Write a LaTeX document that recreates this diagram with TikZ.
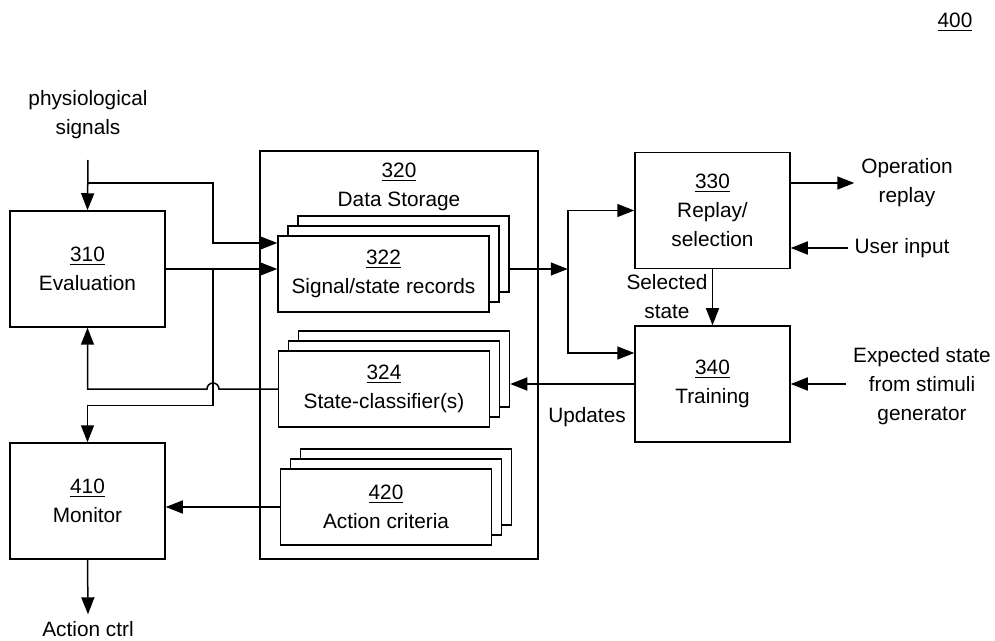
\documentclass[tikz,border=0pt]{standalone}
\usepackage{fontspec}
\setmainfont{Liberation Sans}
\usepackage{tikz}
\usetikzlibrary{arrows.meta, positioning, calc}

\begin{document}
\begin{tikzpicture}[
    x=0.5pt, y=-0.5pt,
    note/.style={font=\fontsize{10.4}{14.5}\selectfont, align=center},
    unit/.style={note, rectangle, draw, line width=0.75pt, fill=white, minimum width=77.5pt, minimum height=58pt},
    storebox/.style={rectangle, draw, line width=0.75pt, minimum width=139pt, minimum height=204pt},
    stackbox/.style={note, rectangle, draw, line width=0.75pt, fill=white, minimum width=105.5pt, minimum height=38pt,
        preaction={draw, fill=white, transform canvas={shift={(10pt,10pt)}}},
        preaction={draw, fill=white, transform canvas={shift={(5pt,5pt)}}}},
    arrow/.style={-{Triangle[length=8.5pt, width=6.5pt]}, line width=0.75pt}
]
\useasboundingbox (0,0) rectangle (995,641);

% Figure number
\node[note] (fig_num) at (955,22) {\underline{400}};

% Input signals and evaluation
\node[note] (phys) at (88,115) {physiological\\signals};
\coordinate (phys_in) at (88,160);
\coordinate (phys_split) at (88,183);
\node[unit] (eval) at (87.5,269) {\underline{310}\\Evaluation};

% Data storage with its stacked records
\node[storebox] (store) at (399,355) {};
\node[note] (store_title) at (399,187) {\underline{320}\\Data Storage};
\node[stackbox] (rec) at (383.5,274) {\underline{322}\\Signal/state records};
\node[stackbox] (cls) at (384,389) {\underline{324}\\State-classifier(s)};
\node[stackbox] (crit) at (386,507) {\underline{420}\\Action criteria};

% Monitor
\node[unit] (monitor) at (87.5,501) {\underline{410}\\Monitor};
\node[note] (act) at (88,629) {Action ctrl};

% Replay and training
\node[unit] (replay) at (712.5,210.5) {\underline{330}\\Replay/\\selection};
\node[unit] (train) at (712.5,384) {\underline{340}\\Training};
\node[note] (sel) at (667,297) {Selected\\state};
\node[note] (upd) at (587,417) {Updates};
\node[note] (oprep) at (907,183) {Operation\\replay};
\node[note] (user) at (902,248) {User input};
\node[note] (expect) at (922,386) {Expected state\\from stimuli\\generator};

% Signals into evaluation and records
\coordinate (bus) at (213,269);
\coordinate (rec_in) at ([yshift=15.5pt]rec.west);
\draw[arrow] (phys_in) -- (eval.north);
\draw[arrow] (phys_split) -| (bus |- rec_in) -- (rec_in);

% Evaluation output
\draw[arrow] (eval.east) -- (eval.east -| rec.west);
\draw[arrow] (bus) |- ($(monitor.north)+(0,-37)$) -- (monitor.north);

% Classifier back to evaluation, hopping over the bus
\coordinate (hop) at (bus |- cls.west);
\draw[arrow] (cls.west) -- ($(hop)+(6,0)$) arc[start angle=0, end angle=180, radius=3pt] -| (eval.south);

% Action criteria to monitor
\draw[arrow] (crit.west) -- (crit.west -| monitor.east);
\draw[arrow] (monitor.south) -- (act.north);

% Records to replay and training
\coordinate (rec_out) at ([xshift=10pt,yshift=2.5pt]rec.east);
\coordinate (fork) at ($(rec_out)+(58,0)$);
\draw[arrow] (rec_out) -- (fork);
\draw[arrow] (fork) |- (replay.west);
\draw[arrow] (fork) |- ([yshift=15.5pt]train.west);
\draw[arrow] (replay.south) -- (train.north);

% Training updates the classifiers
\coordinate (cls_back) at ([xshift=10pt]cls.east);
\draw[arrow] (train.west) -- (train.west -| cls_back);

% Outside inputs and outputs
\draw[arrow] (oprep.west -| replay.east) -- (oprep.west);
\draw[arrow] (user.west) -- (user.west -| replay.east);
\draw[arrow] (train.east -| expect.west) -- (train.east);

\end{tikzpicture}
\end{document}
